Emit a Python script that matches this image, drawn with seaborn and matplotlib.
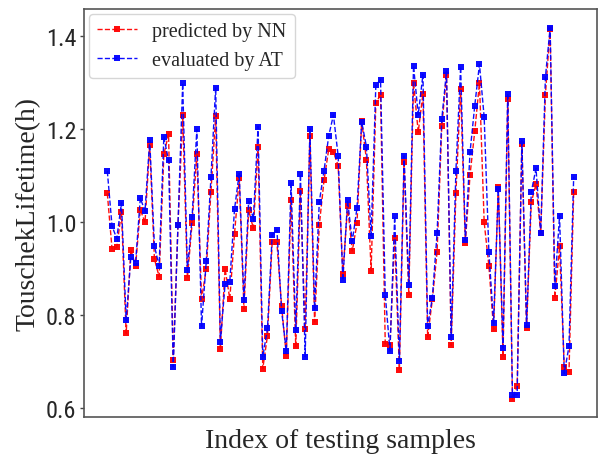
import matplotlib
matplotlib.use("Agg")
import matplotlib.pyplot as plt
from matplotlib import font_manager
import seaborn as sns
import pandas as pd

# Touschek lifetime (h) for each testing sample
predicted_nn = [
    1.062, 0.943, 0.946, 1.022, 0.761, 0.941, 0.906, 1.027, 1.000, 1.166,
    0.921, 0.883, 1.146, 1.190, 0.704, 0.994, 1.231, 0.880, 0.999, 1.146,
    0.835, 0.899, 1.066, 1.229, 0.727, 0.900, 0.835, 0.975, 1.095, 0.814,
    1.026, 0.987, 1.163, 0.685, 0.756, 0.958, 0.957, 0.819, 0.713, 1.049,
    0.733, 1.067, 0.771, 1.186, 0.786, 0.994, 1.090, 1.157, 1.151, 1.122,
    0.889, 1.034, 0.938, 0.998, 1.217, 1.135, 0.895, 1.256, 1.275, 0.739,
    0.735, 0.967, 0.682, 1.129, 0.844, 1.300, 1.194, 1.277, 0.753, 0.834,
    0.936, 1.207, 1.316, 0.735, 1.063, 1.287, 0.956, 1.102, 1.196, 1.300,
    1.000, 0.906, 0.770, 1.077, 0.711, 1.265, 0.620, 0.647, 1.168, 0.773,
    1.043, 1.082, 0.977, 1.275, 1.416, 0.837, 0.948, 0.688, 0.677, 1.065,
]
evaluated_at = [
    1.110, 0.992, 0.965, 1.042, 0.789, 0.926, 0.913, 1.052, 1.024, 1.177,
    0.949, 0.906, 1.184, 1.133, 0.689, 0.994, 1.299, 0.897, 1.011, 1.200,
    0.776, 0.916, 1.097, 1.290, 0.743, 0.867, 0.872, 1.028, 1.105, 0.833,
    1.046, 1.007, 1.206, 0.710, 0.772, 0.973, 0.984, 0.809, 0.723, 1.085,
    0.768, 1.103, 0.711, 1.201, 0.815, 1.044, 1.111, 1.186, 1.231, 1.143,
    0.875, 1.047, 0.959, 1.031, 1.216, 1.163, 0.971, 1.295, 1.307, 0.844,
    0.723, 1.013, 0.702, 1.143, 0.864, 1.337, 1.231, 1.318, 0.776, 0.838,
    0.976, 1.222, 1.325, 0.754, 1.111, 1.335, 0.961, 1.151, 1.251, 1.340,
    1.226, 0.936, 0.783, 1.071, 0.730, 1.277, 0.629, 0.629, 1.176, 0.778,
    1.065, 1.116, 0.977, 1.312, 1.419, 0.862, 1.014, 0.675, 0.733, 1.098,
]
sample_index = list(range(len(predicted_nn)))
series_labels = ["predicted by NN", "evaluated by AT"]
y_ticks = [0.6, 0.8, 1.0, 1.2, 1.4]

sns.set_style("white")

installed = {f.name for f in font_manager.fontManager.ttflist}
tick_font = next((f for f in ["Roboto Condensed", "Fira Sans Condensed", "PT Sans Narrow",
                              "Archivo Narrow", "DejaVu Sans"] if f in installed), "DejaVu Sans")
serif_font = "Liberation Serif"

fig = plt.figure(figsize=(6.02, 4.56), dpi=100)
ax = fig.add_axes([84 / 602, 1 - 418 / 456, (597 - 84) / 602, (418 - 10) / 456])

df = pd.DataFrame({"idx": sample_index, "nn": predicted_nn, "at": evaluated_at})

sns.lineplot(data=df, x="idx", y="nn", ax=ax, color="#ff0000", linestyle="--",
             linewidth=1.0, marker="s", markersize=3.8, markeredgewidth=0,
             label=series_labels[0], alpha=0.95)
sns.lineplot(data=df, x="idx", y="at", ax=ax, color="#0000ff", linestyle="--",
             linewidth=1.0, marker="s", markersize=3.8, markeredgewidth=0,
             label=series_labels[1], alpha=0.95)

ax.set_xlim(-4.95, 103.95)
ax.set_ylim(0.581, 1.459)
ax.set_xticks([])
ax.set_yticks(y_ticks)
ax.set_yticklabels([f"{v:.1f}" for v in y_ticks], fontfamily=tick_font, fontsize=17.5)
ax.tick_params(axis="y", left=True, length=3, width=1, pad=2.5, color="#444444")

ax.set_xlabel("Index of testing samples", fontfamily=serif_font, fontsize=20, labelpad=8)
ax.set_ylabel("TouschekLifetime(h)", fontfamily=serif_font, fontsize=20, labelpad=4)

for sp in ax.spines.values():
    sp.set_color("#555555")
    sp.set_linewidth(1.2)

ax.legend(loc="upper left", prop={"family": serif_font, "size": 14.5},
          handlelength=2.0, handletextpad=0.75, borderaxespad=0.25,
          frameon=True, framealpha=0.8, edgecolor="#cccccc", fancybox=True)

fig.savefig("out.png", dpi=100)
